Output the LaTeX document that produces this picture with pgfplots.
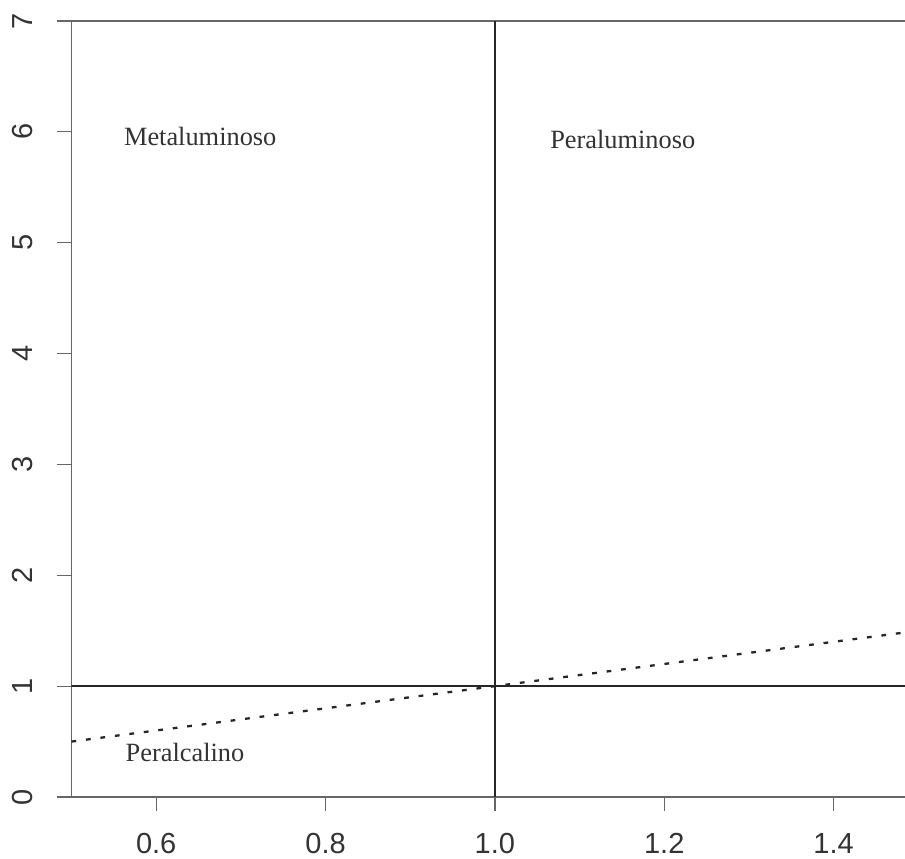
\documentclass[border=0pt]{standalone}
\usepackage{fontspec}
\setmainfont{Liberation Serif}
\setsansfont{Liberation Sans}
\usepackage{pgfplots}
\pgfplotsset{compat=1.18}
\definecolor{axisgray}{gray}{0.40}
\definecolor{linegray}{gray}{0.15}
\definecolor{textgray}{gray}{0.20}

\begin{document}
\begin{tikzpicture}
\begin{axis}[
  scale only axis,
  width=16.67cm, height=15.52cm,
  xmin=0.5, xmax=1.4843, ymin=0, ymax=7,
  axis x line*=box, axis y line*=left,
  axis line style={draw=axisgray, line width=0.7pt},
  xtick={0.6,0.8,1.0,1.2,1.4},
  xticklabels={0.6,0.8,1.0,1.2,1.4},
  ytick={0,1,2,3,4,5,6,7},
  yticklabels={0,1,2,3,4,5,6,7},
  xtick pos=bottom, ytick pos=left,
  tick align=outside,
  major tick length=0.28cm,
  tick style={draw=axisgray, line width=0.7pt},
  /pgf/number format/assume math mode=true,
  xticklabel style={font=\sffamily\fontsize{16.5}{19}\selectfont, text=textgray,
    anchor=north, inner sep=0pt, yshift=-0.44cm},
  yticklabel style={font=\sffamily\fontsize{16.5}{19}\selectfont, text=textgray,
    inner sep=0pt, xshift=-0.50cm, rotate=90, anchor=base},
]
% reference lines A/CNK = 1 and A/NK = 1
\addplot[linegray, line width=0.9pt] coordinates {(0.5,1) (1.5,1)};
\addplot[linegray, line width=0.9pt] coordinates {(1,0) (1,7)};
% A/NK = A/CNK
\addplot[black!85, line width=1.3pt, dash pattern=on 2.7pt off 5.6pt]
  coordinates {(0.5,0.5) (1.5,1.5)};

\node[text=textgray, font=\fontsize{15}{18}\selectfont] at (axis cs:0.652,5.96) {Metaluminoso};
\node[text=textgray, font=\fontsize{15}{18}\selectfont] at (axis cs:1.151,5.93) {Peraluminoso};
\node[text=textgray, font=\fontsize{15}{18}\selectfont] at (axis cs:0.634,0.40) {Peralcalino};

\coordinate (sw) at (rel axis cs:0,0);
\coordinate (ne) at (rel axis cs:1,1);
\end{axis}
\pgfresetboundingbox
\path ([shift={(-1.43cm,-1.24cm)}]sw) rectangle ([shift={(0cm,0.42cm)}]ne);
\end{tikzpicture}
\end{document}
